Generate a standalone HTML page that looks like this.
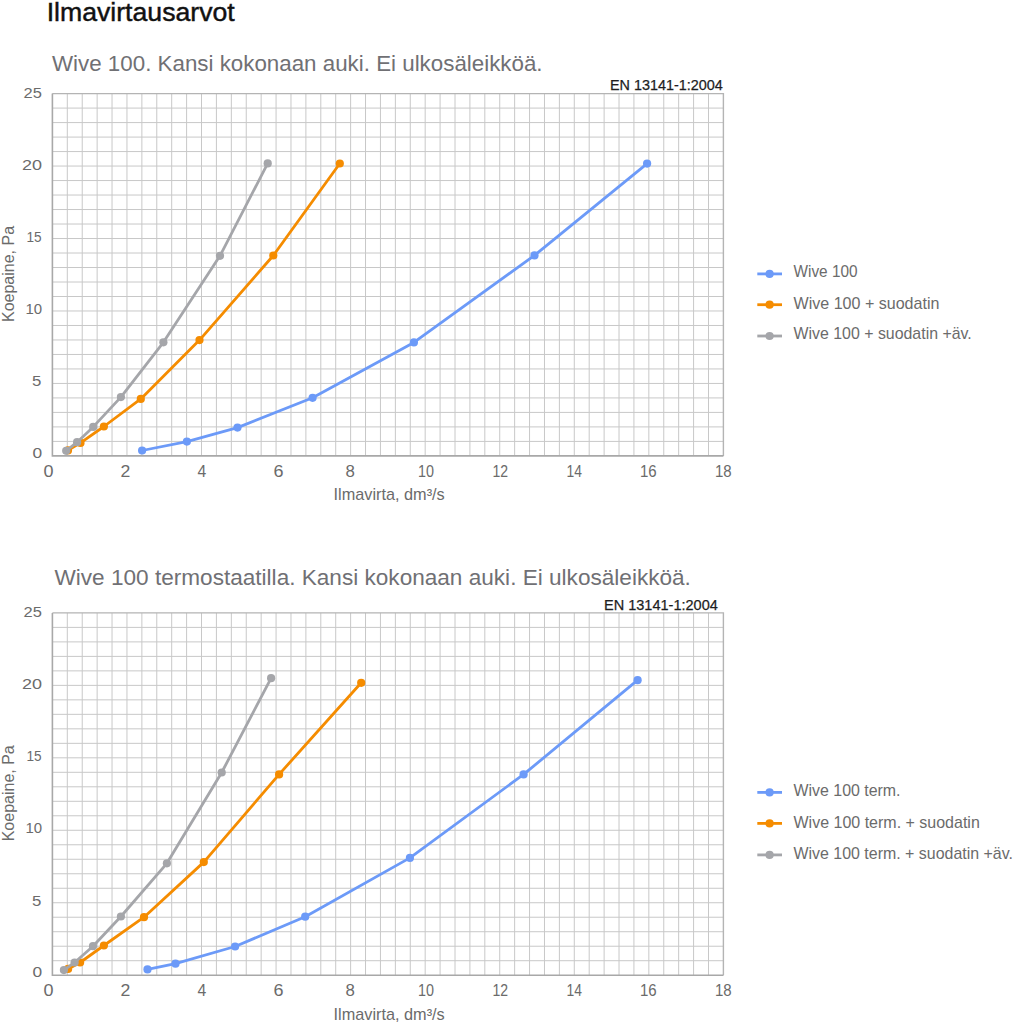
<!DOCTYPE html>
<html><head><meta charset="utf-8"><style>
html,body{margin:0;padding:0;background:#fff;}
body{width:1013px;height:1024px;overflow:hidden;position:relative;}
svg{position:absolute;left:0;top:0;font-family:"Liberation Sans",sans-serif;}
</style></head><body>
<svg width="1013" height="1024" viewBox="0 0 1013 1024">
<path d="M67.31 93.60V455.90M82.22 93.60V455.90M97.13 93.60V455.90M112.04 93.60V455.90M126.96 93.60V455.90M141.87 93.60V455.90M156.78 93.60V455.90M171.69 93.60V455.90M186.60 93.60V455.90M201.51 93.60V455.90M216.42 93.60V455.90M231.33 93.60V455.90M246.24 93.60V455.90M261.16 93.60V455.90M276.07 93.60V455.90M290.98 93.60V455.90M305.89 93.60V455.90M320.80 93.60V455.90M335.71 93.60V455.90M350.62 93.60V455.90M365.53 93.60V455.90M380.44 93.60V455.90M395.36 93.60V455.90M410.27 93.60V455.90M425.18 93.60V455.90M440.09 93.60V455.90M455.00 93.60V455.90M469.91 93.60V455.90M484.82 93.60V455.90M499.73 93.60V455.90M514.64 93.60V455.90M529.56 93.60V455.90M544.47 93.60V455.90M559.38 93.60V455.90M574.29 93.60V455.90M589.20 93.60V455.90M604.11 93.60V455.90M619.02 93.60V455.90M633.93 93.60V455.90M648.84 93.60V455.90M663.76 93.60V455.90M678.67 93.60V455.90M693.58 93.60V455.90M708.49 93.60V455.90M52.40 108.09H723.40M52.40 122.58H723.40M52.40 137.08H723.40M52.40 151.57H723.40M52.40 166.06H723.40M52.40 180.55H723.40M52.40 195.04H723.40M52.40 209.54H723.40M52.40 224.03H723.40M52.40 238.52H723.40M52.40 253.01H723.40M52.40 267.50H723.40M52.40 282.00H723.40M52.40 296.49H723.40M52.40 310.98H723.40M52.40 325.47H723.40M52.40 339.96H723.40M52.40 354.46H723.40M52.40 368.95H723.40M52.40 383.44H723.40M52.40 397.93H723.40M52.40 412.42H723.40M52.40 426.92H723.40M52.40 441.41H723.40" stroke="#c8c8c8" stroke-width="1" fill="none"/>
<path d="M52.4 93.6H723.4V455.9" stroke="#b4b4b4" stroke-width="1.4" fill="none"/>
<path d="M52.4 93.6V455.9H723.4" stroke="#a8a8a8" stroke-width="1.6" fill="none"/>
<text transform="translate(14.1 274.0) rotate(-90)" font-size="16.0" fill="#6b6b6b" text-anchor="middle">Koepaine, Pa</text>
<path d="M142.1 450.5 L186.9 441.6 L237.5 427.6 L312.6 397.8 L413.9 342.4 L534.5 255.4 L647.1 163.6" stroke="#6c9af8" stroke-width="2.8" fill="none" stroke-linejoin="round"/>
<circle cx="142.1" cy="450.5" r="4.1" fill="#6c9af8"/>
<circle cx="186.9" cy="441.6" r="4.1" fill="#6c9af8"/>
<circle cx="237.5" cy="427.6" r="4.1" fill="#6c9af8"/>
<circle cx="312.6" cy="397.8" r="4.1" fill="#6c9af8"/>
<circle cx="413.9" cy="342.4" r="4.1" fill="#6c9af8"/>
<circle cx="534.5" cy="255.4" r="4.1" fill="#6c9af8"/>
<circle cx="647.1" cy="163.6" r="4.1" fill="#6c9af8"/>
<path d="M68.0 450.4 L80.5 442.9 L103.9 426.5 L140.8 398.9 L199.5 340.1 L273.3 255.5 L339.8 163.5" stroke="#f58c00" stroke-width="2.8" fill="none" stroke-linejoin="round"/>
<circle cx="68.0" cy="450.4" r="4.1" fill="#f58c00"/>
<circle cx="80.5" cy="442.9" r="4.1" fill="#f58c00"/>
<circle cx="103.9" cy="426.5" r="4.1" fill="#f58c00"/>
<circle cx="140.8" cy="398.9" r="4.1" fill="#f58c00"/>
<circle cx="199.5" cy="340.1" r="4.1" fill="#f58c00"/>
<circle cx="273.3" cy="255.5" r="4.1" fill="#f58c00"/>
<circle cx="339.8" cy="163.5" r="4.1" fill="#f58c00"/>
<path d="M66.2 450.8 L77.1 442.2 L93.2 426.9 L120.9 397.1 L163.4 342.3 L220.0 255.8 L267.7 163.4" stroke="#a5a6aa" stroke-width="2.8" fill="none" stroke-linejoin="round"/>
<circle cx="66.2" cy="450.8" r="4.1" fill="#a5a6aa"/>
<circle cx="77.1" cy="442.2" r="4.1" fill="#a5a6aa"/>
<circle cx="93.2" cy="426.9" r="4.1" fill="#a5a6aa"/>
<circle cx="120.9" cy="397.1" r="4.1" fill="#a5a6aa"/>
<circle cx="163.4" cy="342.3" r="4.1" fill="#a5a6aa"/>
<circle cx="220.0" cy="255.8" r="4.1" fill="#a5a6aa"/>
<circle cx="267.7" cy="163.4" r="4.1" fill="#a5a6aa"/>
<path d="M757.3 273.9H782" stroke="#6c9af8" stroke-width="2.8"/>
<circle cx="769.6" cy="273.9" r="4.1" fill="#6c9af8"/>
<path d="M757.3 304.7H782" stroke="#f58c00" stroke-width="2.8"/>
<circle cx="769.6" cy="304.7" r="4.1" fill="#f58c00"/>
<path d="M757.3 336.0H782" stroke="#a5a6aa" stroke-width="2.8"/>
<circle cx="769.6" cy="336.0" r="4.1" fill="#a5a6aa"/>
<path d="M67.31 612.90V975.20M82.22 612.90V975.20M97.13 612.90V975.20M112.04 612.90V975.20M126.96 612.90V975.20M141.87 612.90V975.20M156.78 612.90V975.20M171.69 612.90V975.20M186.60 612.90V975.20M201.51 612.90V975.20M216.42 612.90V975.20M231.33 612.90V975.20M246.24 612.90V975.20M261.16 612.90V975.20M276.07 612.90V975.20M290.98 612.90V975.20M305.89 612.90V975.20M320.80 612.90V975.20M335.71 612.90V975.20M350.62 612.90V975.20M365.53 612.90V975.20M380.44 612.90V975.20M395.36 612.90V975.20M410.27 612.90V975.20M425.18 612.90V975.20M440.09 612.90V975.20M455.00 612.90V975.20M469.91 612.90V975.20M484.82 612.90V975.20M499.73 612.90V975.20M514.64 612.90V975.20M529.56 612.90V975.20M544.47 612.90V975.20M559.38 612.90V975.20M574.29 612.90V975.20M589.20 612.90V975.20M604.11 612.90V975.20M619.02 612.90V975.20M633.93 612.90V975.20M648.84 612.90V975.20M663.76 612.90V975.20M678.67 612.90V975.20M693.58 612.90V975.20M708.49 612.90V975.20M52.40 627.39H723.40M52.40 641.88H723.40M52.40 656.38H723.40M52.40 670.87H723.40M52.40 685.36H723.40M52.40 699.85H723.40M52.40 714.34H723.40M52.40 728.84H723.40M52.40 743.33H723.40M52.40 757.82H723.40M52.40 772.31H723.40M52.40 786.80H723.40M52.40 801.30H723.40M52.40 815.79H723.40M52.40 830.28H723.40M52.40 844.77H723.40M52.40 859.26H723.40M52.40 873.76H723.40M52.40 888.25H723.40M52.40 902.74H723.40M52.40 917.23H723.40M52.40 931.72H723.40M52.40 946.22H723.40M52.40 960.71H723.40" stroke="#c8c8c8" stroke-width="1" fill="none"/>
<path d="M52.4 612.9H723.4V975.2" stroke="#b4b4b4" stroke-width="1.4" fill="none"/>
<path d="M52.4 612.9V975.2H723.4" stroke="#a8a8a8" stroke-width="1.6" fill="none"/>
<text transform="translate(14.1 793.3) rotate(-90)" font-size="16.0" fill="#6b6b6b" text-anchor="middle">Koepaine, Pa</text>
<path d="M147.5 969.4 L175.5 963.7 L235.1 946.5 L305.2 916.7 L409.9 857.9 L523.6 774.4 L637.6 680.2" stroke="#6c9af8" stroke-width="2.8" fill="none" stroke-linejoin="round"/>
<circle cx="147.5" cy="969.4" r="4.1" fill="#6c9af8"/>
<circle cx="175.5" cy="963.7" r="4.1" fill="#6c9af8"/>
<circle cx="235.1" cy="946.5" r="4.1" fill="#6c9af8"/>
<circle cx="305.2" cy="916.7" r="4.1" fill="#6c9af8"/>
<circle cx="409.9" cy="857.9" r="4.1" fill="#6c9af8"/>
<circle cx="523.6" cy="774.4" r="4.1" fill="#6c9af8"/>
<circle cx="637.6" cy="680.2" r="4.1" fill="#6c9af8"/>
<path d="M68.1 968.9 L80.1 962.5 L103.9 945.5 L144.0 917.2 L203.8 862.1 L279.1 774.4 L361.2 682.8" stroke="#f58c00" stroke-width="2.8" fill="none" stroke-linejoin="round"/>
<circle cx="68.1" cy="968.9" r="4.1" fill="#f58c00"/>
<circle cx="80.1" cy="962.5" r="4.1" fill="#f58c00"/>
<circle cx="103.9" cy="945.5" r="4.1" fill="#f58c00"/>
<circle cx="144.0" cy="917.2" r="4.1" fill="#f58c00"/>
<circle cx="203.8" cy="862.1" r="4.1" fill="#f58c00"/>
<circle cx="279.1" cy="774.4" r="4.1" fill="#f58c00"/>
<circle cx="361.2" cy="682.8" r="4.1" fill="#f58c00"/>
<path d="M63.9 970.1 L74.6 962.5 L93.0 946.2 L120.9 916.5 L166.9 863.3 L221.7 772.5 L271.1 678.2" stroke="#a5a6aa" stroke-width="2.8" fill="none" stroke-linejoin="round"/>
<circle cx="63.9" cy="970.1" r="4.1" fill="#a5a6aa"/>
<circle cx="74.6" cy="962.5" r="4.1" fill="#a5a6aa"/>
<circle cx="93.0" cy="946.2" r="4.1" fill="#a5a6aa"/>
<circle cx="120.9" cy="916.5" r="4.1" fill="#a5a6aa"/>
<circle cx="166.9" cy="863.3" r="4.1" fill="#a5a6aa"/>
<circle cx="221.7" cy="772.5" r="4.1" fill="#a5a6aa"/>
<circle cx="271.1" cy="678.2" r="4.1" fill="#a5a6aa"/>
<path d="M757.3 792.4H782" stroke="#6c9af8" stroke-width="2.8"/>
<circle cx="769.6" cy="792.4" r="4.1" fill="#6c9af8"/>
<path d="M757.3 823.4H782" stroke="#f58c00" stroke-width="2.8"/>
<circle cx="769.6" cy="823.4" r="4.1" fill="#f58c00"/>
<path d="M757.3 854.9H782" stroke="#a5a6aa" stroke-width="2.8"/>
<circle cx="769.6" cy="854.9" r="4.1" fill="#a5a6aa"/>
<text x="46.70" y="21.40" font-size="26.6" fill="#111" stroke="#111" stroke-width="0.45" textLength="188.02" lengthAdjust="spacingAndGlyphs">Ilmavirtausarvot</text>
<text x="52.00" y="70.50" font-size="22.3" fill="#707074" textLength="490.58" lengthAdjust="spacingAndGlyphs">Wive 100. Kansi kokonaan auki. Ei ulkosäleikköä.</text>
<text x="54.50" y="584.70" font-size="22.3" fill="#707074" textLength="636.38" lengthAdjust="spacingAndGlyphs">Wive 100 termostaatilla. Kansi kokonaan auki. Ei ulkosäleikköä.</text>
<text x="610.00" y="89.50" font-size="14.8" fill="#1e1e1e" stroke="#1e1e1e" stroke-width="0.25" textLength="112.78" lengthAdjust="spacingAndGlyphs">EN 13141-1:2004</text>
<text x="604.00" y="609.90" font-size="14.8" fill="#1e1e1e" stroke="#1e1e1e" stroke-width="0.25" textLength="113.78" lengthAdjust="spacingAndGlyphs">EN 13141-1:2004</text>
<text x="23.50" y="98.20" font-size="15.3" fill="#6b6b6b" textLength="18.31" lengthAdjust="spacingAndGlyphs">25</text>
<text x="22.00" y="169.90" font-size="15.3" fill="#6b6b6b" textLength="20.01" lengthAdjust="spacingAndGlyphs">20</text>
<text x="26.50" y="241.90" font-size="15.3" fill="#6b6b6b" textLength="15.13" lengthAdjust="spacingAndGlyphs">15</text>
<text x="25.50" y="314.00" font-size="15.3" fill="#6b6b6b" textLength="16.64" lengthAdjust="spacingAndGlyphs">10</text>
<text x="32.00" y="386.30" font-size="15.3" fill="#6b6b6b" textLength="9.35" lengthAdjust="spacingAndGlyphs">5</text>
<text x="32.50" y="457.60" font-size="15.3" fill="#6b6b6b" textLength="9.65" lengthAdjust="spacingAndGlyphs">0</text>
<text x="43.50" y="477.00" font-size="16.0" fill="#6b6b6b" textLength="10.02" lengthAdjust="spacingAndGlyphs">0</text>
<text x="120.50" y="477.00" font-size="16.0" fill="#6b6b6b" textLength="9.83" lengthAdjust="spacingAndGlyphs">2</text>
<text x="197.50" y="477.00" font-size="16.0" fill="#6b6b6b" textLength="8.75" lengthAdjust="spacingAndGlyphs">4</text>
<text x="273.50" y="477.00" font-size="16.0" fill="#6b6b6b" textLength="10.00" lengthAdjust="spacingAndGlyphs">6</text>
<text x="345.50" y="477.00" font-size="16.0" fill="#6b6b6b" textLength="9.36" lengthAdjust="spacingAndGlyphs">8</text>
<text x="418.00" y="477.00" font-size="16.0" fill="#6b6b6b" textLength="15.95" lengthAdjust="spacingAndGlyphs">10</text>
<text x="492.50" y="477.00" font-size="16.0" fill="#6b6b6b" textLength="15.61" lengthAdjust="spacingAndGlyphs">12</text>
<text x="566.50" y="477.00" font-size="16.0" fill="#6b6b6b" textLength="15.38" lengthAdjust="spacingAndGlyphs">14</text>
<text x="640.00" y="477.00" font-size="16.0" fill="#6b6b6b" textLength="16.68" lengthAdjust="spacingAndGlyphs">16</text>
<text x="715.00" y="477.00" font-size="16.0" fill="#6b6b6b" textLength="16.68" lengthAdjust="spacingAndGlyphs">18</text>
<text x="333.50" y="500.30" font-size="16.4" fill="#6b6b6b" textLength="111.21" lengthAdjust="spacingAndGlyphs">Ilmavirta, dm³/s</text>
<text x="23.50" y="617.40" font-size="15.3" fill="#6b6b6b" textLength="18.31" lengthAdjust="spacingAndGlyphs">25</text>
<text x="22.00" y="689.10" font-size="15.3" fill="#6b6b6b" textLength="20.01" lengthAdjust="spacingAndGlyphs">20</text>
<text x="26.50" y="761.10" font-size="15.3" fill="#6b6b6b" textLength="15.13" lengthAdjust="spacingAndGlyphs">15</text>
<text x="25.50" y="833.20" font-size="15.3" fill="#6b6b6b" textLength="16.64" lengthAdjust="spacingAndGlyphs">10</text>
<text x="32.00" y="905.50" font-size="15.3" fill="#6b6b6b" textLength="9.35" lengthAdjust="spacingAndGlyphs">5</text>
<text x="32.50" y="976.80" font-size="15.3" fill="#6b6b6b" textLength="9.65" lengthAdjust="spacingAndGlyphs">0</text>
<text x="43.50" y="996.20" font-size="16.0" fill="#6b6b6b" textLength="10.02" lengthAdjust="spacingAndGlyphs">0</text>
<text x="120.50" y="996.20" font-size="16.0" fill="#6b6b6b" textLength="9.83" lengthAdjust="spacingAndGlyphs">2</text>
<text x="197.50" y="996.20" font-size="16.0" fill="#6b6b6b" textLength="8.75" lengthAdjust="spacingAndGlyphs">4</text>
<text x="273.50" y="996.20" font-size="16.0" fill="#6b6b6b" textLength="10.00" lengthAdjust="spacingAndGlyphs">6</text>
<text x="345.50" y="996.20" font-size="16.0" fill="#6b6b6b" textLength="9.36" lengthAdjust="spacingAndGlyphs">8</text>
<text x="418.00" y="996.20" font-size="16.0" fill="#6b6b6b" textLength="15.95" lengthAdjust="spacingAndGlyphs">10</text>
<text x="492.50" y="996.20" font-size="16.0" fill="#6b6b6b" textLength="15.61" lengthAdjust="spacingAndGlyphs">12</text>
<text x="566.50" y="996.20" font-size="16.0" fill="#6b6b6b" textLength="15.38" lengthAdjust="spacingAndGlyphs">14</text>
<text x="640.00" y="996.20" font-size="16.0" fill="#6b6b6b" textLength="16.68" lengthAdjust="spacingAndGlyphs">16</text>
<text x="715.00" y="996.20" font-size="16.0" fill="#6b6b6b" textLength="16.68" lengthAdjust="spacingAndGlyphs">18</text>
<text x="333.50" y="1019.50" font-size="16.4" fill="#6b6b6b" textLength="111.21" lengthAdjust="spacingAndGlyphs">Ilmavirta, dm³/s</text>
<text x="793.50" y="277.40" font-size="16.2" fill="#6b6b6b" textLength="64.07" lengthAdjust="spacingAndGlyphs">Wive 100</text>
<text x="793.50" y="308.60" font-size="16.2" fill="#6b6b6b" textLength="145.94" lengthAdjust="spacingAndGlyphs">Wive 100 + suodatin</text>
<text x="793.50" y="339.30" font-size="16.2" fill="#6b6b6b" textLength="178.24" lengthAdjust="spacingAndGlyphs">Wive 100 + suodatin +äv.</text>
<text x="793.50" y="796.40" font-size="16.2" fill="#6b6b6b" textLength="107.05" lengthAdjust="spacingAndGlyphs">Wive 100 term.</text>
<text x="793.50" y="827.50" font-size="16.2" fill="#6b6b6b" textLength="186.30" lengthAdjust="spacingAndGlyphs">Wive 100 term. + suodatin</text>
<text x="793.50" y="858.50" font-size="16.2" fill="#6b6b6b" textLength="219.40" lengthAdjust="spacingAndGlyphs">Wive 100 term. + suodatin +äv.</text>
</svg>
</body></html>
